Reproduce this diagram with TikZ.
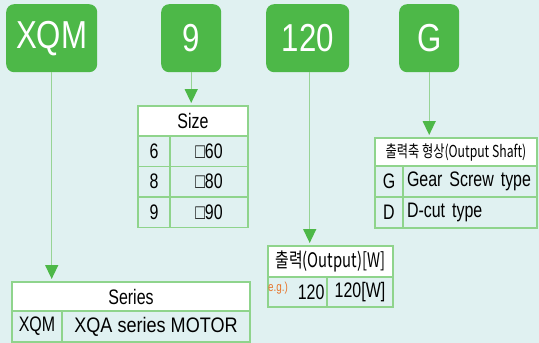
\documentclass[tikz,border=0pt]{standalone}
\usepackage{fontspec}
\setmainfont{Liberation Sans}[FakeStretch=0.76]
\newfontfamily\tagfont{Liberation Sans}[FakeStretch=0.8]
\newfontfamily\widefont{Liberation Sans}[FakeStretch=0.86]
\newfontfamily\krfont{Noto Sans CJK KR}[FakeStretch=0.74]
\usepackage{tikz}
\usetikzlibrary{positioning,arrows.meta}

\definecolor{pagebg}{HTML}{E0F1F1}
\definecolor{boxgreen}{HTML}{4DB848}
\definecolor{leadgreen}{HTML}{97D495}
\definecolor{tipgreen}{HTML}{4DB848}
\definecolor{tableline}{HTML}{8FD48C}
\definecolor{egorange}{HTML}{E8742A}

\tikzset{
  tagbox/.style={fill=boxgreen, rounded corners=8pt, anchor=north west, inner sep=0pt,
    minimum height=68pt, text=white, font=\tagfont\fontsize{39}{39}\selectfont},
  cell/.style={draw=tableline, line width=1.3pt, fill=pagebg, anchor=north west,
    inner sep=0pt, outer sep=0pt, font=\fontsize{21}{21}\selectfont},
  headcell/.style={cell, fill=white},
  lead/.style={draw=leadgreen, line width=1.4pt, shorten >=3pt,
    -{Triangle[width=13pt,length=14pt,color=tipgreen]}}
}

\begin{document}
\begin{tikzpicture}[x=1pt,y=-1pt]
\fill[pagebg] (0,0) rectangle (539,343);
\useasboundingbox (0,0) rectangle (539,343);

% code boxes
\node[tagbox, minimum width=91pt] (xqm) at (6,4) {XQM};
\node[tagbox, minimum width=60pt] (nine) at (161,4) {9};
\node[tagbox, minimum width=83pt] (watt) at (266,4) {120};
\node[tagbox, minimum width=60pt] (gear) at (399,4) {G};

% size table
\node[headcell, minimum width=110pt, minimum height=30pt] (sizehead) at (138,106) {Size};
\node[cell, minimum width=32pt, minimum height=30.5pt] (s6) at (138,136) {6};
\node[cell, minimum width=78pt, minimum height=30.5pt, right=0pt of s6] (s60) {□60};
\node[cell, minimum width=32pt, minimum height=30.5pt, below=0pt of s6] (s8) {8};
\node[cell, minimum width=78pt, minimum height=30.5pt, right=0pt of s8] (s80) {□80};
\node[cell, minimum width=32pt, minimum height=30.5pt, below=0pt of s8] (s9) {9};
\node[cell, minimum width=78pt, minimum height=30.5pt, right=0pt of s9] (s90) {□90};

% output shaft table
\node[headcell, minimum width=162pt, minimum height=28pt, font=\krfont\fontsize{16.5}{16.5}\selectfont]
  (shafthead) at (375,138) {출력축 형상(Output Shaft)};
\node[cell, minimum width=28pt, minimum height=31pt] (sg) at (375,166) {G};
\node[cell, minimum width=134pt, minimum height=31pt, right=0pt of sg, text width=126pt, align=left] (sgt) {Gear Screw type};
\node[cell, minimum width=28pt, minimum height=31pt, below=0pt of sg] (sd) {D};
\node[cell, minimum width=134pt, minimum height=31pt, right=0pt of sd, text width=126pt, align=left] (sdt) {D-cut type};

% output table
\node[headcell, minimum width=125pt, minimum height=31pt, font=\krfont\fontsize{20}{20}\selectfont]
  (outhead) at (268,246) {출력(Output)[W]};
\node[cell, minimum width=59pt, minimum height=30pt, text width=54pt, align=right] (o120) at (268,277) {120};
\node[cell, minimum width=66pt, minimum height=30pt, right=0pt of o120] (o120w) {120[W]};
\node[anchor=north west, inner sep=0pt, text=egorange, font=\fontsize{13}{13}\selectfont] (eg) at (268,282) {e.g.)};

% series table
\node[headcell, minimum width=238pt, minimum height=29pt] (serieshead) at (12,282) {Series};
\node[cell, minimum width=50pt, minimum height=31pt] (sxqm) at (12,311) {XQM};
\node[cell, minimum width=188pt, minimum height=31pt, right=0pt of sxqm, font=\widefont\fontsize{21}{21}\selectfont] (sxqa) {XQA series MOTOR};

% leads
\draw[lead] (xqm.south) -- (xqm.south |- serieshead.north);
\draw[lead] (nine.south) -- (nine.south |- sizehead.north);
\draw[lead] ([xshift=2pt]watt.south) -- ([xshift=2pt]watt.south |- outhead.north);
\draw[lead] (gear.south) -- (gear.south |- shafthead.north);
\end{tikzpicture}
\end{document}
